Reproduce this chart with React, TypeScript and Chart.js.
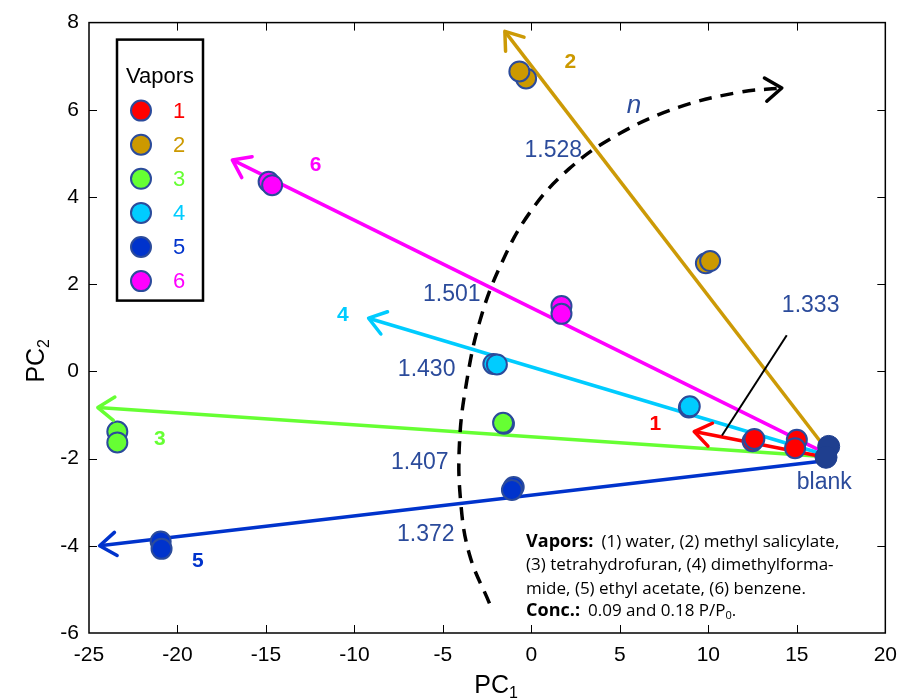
import React, { useEffect, useRef } from "react";
import { Chart, registerables } from "chart.js";
Chart.register(...registerables);

// ---- axes ----
const xMin = -25, xMax = 20, xStep = 5;
const yMin = -6, yMax = 8, yStep = 2;

// ---- vapors ----
const vaporNames = ["1", "2", "3", "4", "5", "6"];
const vaporColors = ["#ff0000", "#cc9900", "#66ff33", "#00ccff", "#0033cc", "#ff00ff"];
const lineColors = ["#ff0000", "#cc9a06", "#66ff33", "#00ccff", "#0033cc", "#ff00ff"];

const v1X = [12.5, 12.6, 15.0, 14.9];
const v1Y = [-1.6, -1.55, -1.57, -1.76];
const v2X = [-0.3, -0.68, 9.86, 10.1];
const v2Y = [6.72, 6.88, 2.48, 2.53];
const v3X = [-23.4, -23.4, -1.55, -1.6];
const v3Y = [-1.38, -1.63, -1.2, -1.18];
const v4X = [-2.15, -1.95, 8.9, 8.95];
const v4Y = [0.17, 0.16, -0.83, -0.8];
const v5X = [-20.95, -20.9, -1.0, -1.1];
const v5Y = [-3.9, -4.07, -2.65, -2.72];
const v6X = [-14.85, -14.65, 1.7, 1.7];
const v6Y = [4.35, 4.27, 1.5, 1.32];
const blankX = [16.8, 16.65];
const blankY = [-1.72, -1.97];

// arrows (start at blank, end at arrow tip)
const arrowStartX = [16.4, 16.6, 16.5, 16.5, 16.6, 16.5];
const arrowStartY = [-1.95, -1.75, -1.95, -1.9, -2.05, -1.85];
const arrowEndX = [9.2, -1.5, -24.5, -9.2, -24.4, -16.9];
const arrowEndY = [-1.38, 7.8, -0.83, 1.22, -4.0, 4.85];

// vapor number labels
const vaporLabelX = [7.0, 2.2, -21.0, -10.65, -18.85, -12.2];
const vaporLabelY = [-1.22, 7.1, -1.55, 1.28, -4.36, 4.72];

// refractive index labels
const nLabels = ["1.333", "1.528", "1.501", "1.430", "1.407", "1.372"];
const nLabelX = [15.78, 1.24, -4.5, -5.92, -6.31, -5.97];
const nLabelY = [1.5, 5.06, 1.76, 0.03, -2.09, -3.75];

// leader line for 1.333
const leaderX = [14.43, 10.77];
const leaderY = [0.83, -1.47];

// dashed n curve
const curveX = [-2.37, -3.5, -4.0, -4.06, -3.66, -2.93, -1.8, -0.11, 2.14, 4.96, 8.34, 11.72, 14.15];
const curveY = [-5.32, -4.2, -2.97, -1.61, -0.24, 1.13, 2.38, 3.63, 4.65, 5.45, 6.06, 6.4, 6.5];
const nText = "n";
const nTextX = 5.8;
const nTextY = 6.1;
const blankText = "blank";
const blankTextX = 16.55;
const blankTextY = -2.56;

// notes
const noteX = -0.3;
const noteY = [-3.91, -4.45, -5.0, -5.5];

const NAVY = "#2b4b9b";

function toPts(xs: number[], ys: number[]) {
  return xs.map((x, i) => ({ x, y: ys[i] }));
}

function drawArrowHead(ctx: CanvasRenderingContext2D, x0: number, y0: number, x1: number, y1: number, color: string, lw: number, len: number) {
  const a = Math.atan2(y1 - y0, x1 - x0);
  const sp = 0.62;
  ctx.save();
  ctx.strokeStyle = color;
  ctx.lineWidth = lw;
  ctx.lineCap = "round";
  ctx.lineJoin = "round";
  ctx.setLineDash([]);
  ctx.beginPath();
  ctx.moveTo(x1 - len * Math.cos(a - sp), y1 - len * Math.sin(a - sp));
  ctx.lineTo(x1, y1);
  ctx.lineTo(x1 - len * Math.cos(a + sp), y1 - len * Math.sin(a + sp));
  ctx.stroke();
  ctx.restore();
}

function measure(ctx: CanvasRenderingContext2D, main: string, sub: string, size: number, subSize: number, family: string) {
  ctx.font = `${size}px ${family}`;
  const w1 = ctx.measureText(main).width;
  ctx.font = `${subSize}px ${family}`;
  const w2 = ctx.measureText(sub).width;
  return { w1, w2 };
}

const overlay = {
  id: "overlay",
  afterDatasetsDraw(chart: any) {
    const ctx = chart.ctx as CanvasRenderingContext2D;
    const xs = chart.scales.x, ys = chart.scales.y;
    const px = (v: number) => xs.getPixelForValue(v);
    const py = (v: number) => ys.getPixelForValue(v);
    for (let i = 0; i < 6; i++) {
      drawArrowHead(ctx, px(arrowStartX[i]), py(arrowStartY[i]), px(arrowEndX[i]), py(arrowEndY[i]), lineColors[i], 3.5, 20);
    }
    const n = curveX.length;
    drawArrowHead(ctx, px(curveX[n - 2]), py(curveY[n - 2]), px(curveX[n - 1]), py(curveY[n - 1]), "#000", 3.5, 20);
  },
  afterDraw(chart: any) {
    const ctx = chart.ctx as CanvasRenderingContext2D;
    const xs = chart.scales.x, ys = chart.scales.y;
    const px = (v: number) => xs.getPixelForValue(v);
    const py = (v: number) => ys.getPixelForValue(v);
    const a = chart.chartArea;
    const fam = "'Liberation Sans', Arial, sans-serif";
    ctx.save();
    // box
    ctx.strokeStyle = "#000";
    ctx.lineWidth = 1.5;
    ctx.strokeRect(a.left, a.top, a.right - a.left, a.bottom - a.top);
    // inward ticks
    ctx.lineWidth = 1;
    const tl = 8;
    ctx.beginPath();
    for (let v = xMin + xStep; v < xMax; v += xStep) {
      const x = Math.round(px(v)) + 0.5;
      ctx.moveTo(x, a.bottom); ctx.lineTo(x, a.bottom - tl);
      ctx.moveTo(x, a.top); ctx.lineTo(x, a.top + tl);
    }
    for (let v = yMin + yStep; v < yMax; v += yStep) {
      const y = Math.round(py(v)) + 0.5;
      ctx.moveTo(a.left, y); ctx.lineTo(a.left + tl, y);
      ctx.moveTo(a.right, y); ctx.lineTo(a.right - tl, y);
    }
    ctx.stroke();

    // text labels
    ctx.textAlign = "center";
    ctx.textBaseline = "middle";
    ctx.fillStyle = NAVY;
    ctx.font = `23px ${fam}`;
    for (let i = 0; i < nLabels.length; i++) {
      ctx.fillText(nLabels[i], px(nLabelX[i]), py(nLabelY[i]));
    }
    ctx.fillText(blankText, px(blankTextX), py(blankTextY));
    ctx.font = `italic 26px ${fam}`;
    ctx.fillText(nText, px(nTextX), py(nTextY));
    ctx.font = `bold 21px ${fam}`;
    for (let i = 0; i < 6; i++) {
      ctx.fillStyle = vaporColors[i];
      ctx.fillText(vaporNames[i], px(vaporLabelX[i]), py(vaporLabelY[i]));
    }

    // legend
    const lx = a.left + 28, ly = a.top + 17, lw = 86, lh = 261;
    ctx.fillStyle = "#fff";
    ctx.fillRect(lx, ly, lw, lh);
    ctx.strokeStyle = "#000";
    ctx.lineWidth = 2.5;
    ctx.strokeRect(lx, ly, lw, lh);
    ctx.fillStyle = "#000";
    ctx.font = `22px ${fam}`;
    ctx.fillText("Vapors", lx + lw / 2, ly + 37);
    for (let i = 0; i < 6; i++) {
      const cy = ly + 71 + i * 34.1;
      ctx.beginPath();
      ctx.arc(lx + 24, cy, 10, 0, Math.PI * 2);
      ctx.fillStyle = vaporColors[i];
      ctx.fill();
      ctx.lineWidth = 2;
      ctx.strokeStyle = NAVY;
      ctx.stroke();
      ctx.fillStyle = vaporColors[i];
      ctx.font = `22px ${fam}`;
      ctx.fillText(vaporNames[i], lx + 62, cy + 1);
    }

    // axis titles
    ctx.fillStyle = "#000";
    ctx.textAlign = "left";
    ctx.textBaseline = "alphabetic";
    {
      const { w1, w2 } = measure(ctx, "PC", "1", 25, 16, fam);
      const cx = (a.left + a.right) / 2 + 9;
      const x0 = cx - (w1 + w2) / 2;
      const by = 693;
      ctx.font = `25px ${fam}`;
      ctx.fillText("PC", x0, by);
      ctx.font = `16px ${fam}`;
      ctx.fillText("1", x0 + w1, by + 5);
    }
    {
      const { w1, w2 } = measure(ctx, "PC", "2", 25, 16, fam);
      ctx.save();
      ctx.translate(44, (a.top + a.bottom) / 2 + 33);
      ctx.rotate(-Math.PI / 2);
      const x0 = -(w1 + w2) / 2;
      ctx.font = `25px ${fam}`;
      ctx.fillText("PC", x0, 0);
      ctx.font = `16px ${fam}`;
      ctx.fillText("2", x0 + w1, 5);
      ctx.restore();
    }

    // notes
    const nf = "'Open Sans', 'DejaVu Sans', sans-serif";
    ctx.fillStyle = "#000";
    ctx.textBaseline = "middle";
    const nx = px(noteX);
    ctx.font = `bold 18px ${nf}`;
    ctx.fillText("Vapors:", nx, py(noteY[0]));
    let w = ctx.measureText("Vapors:").width;
    ctx.font = `17px ${nf}`;
    ctx.fillText("(1) water, (2) methyl salicylate,", nx + w + 8, py(noteY[0]));
    ctx.fillText("(3) tetrahydrofuran, (4) dimethylforma-", nx, py(noteY[1]));
    ctx.fillText("mide, (5) ethyl acetate, (6) benzene.", nx, py(noteY[2]));
    ctx.font = `bold 18px ${nf}`;
    ctx.fillText("Conc.:", nx, py(noteY[3]));
    w = ctx.measureText("Conc.:").width;
    ctx.font = `17px ${nf}`;
    const t1 = "0.09 and 0.18 P/P";
    ctx.fillText(t1, nx + w + 8, py(noteY[3]));
    const w3 = ctx.measureText(t1).width;
    ctx.font = `11px ${nf}`;
    ctx.fillText("0", nx + w + 8 + w3, py(noteY[3]) + 5);
    const w4 = ctx.measureText("0").width;
    ctx.font = `17px ${nf}`;
    ctx.fillText(".", nx + w + 8 + w3 + w4, py(noteY[3]));
    ctx.restore();
  },
};

export default function App() {
  const ref = useRef<HTMLCanvasElement>(null);
  useEffect(() => {
    if (!ref.current) return;
    const vx = [v1X, v2X, v3X, v4X, v5X, v6X];
    const vy = [v1Y, v2Y, v3Y, v4Y, v5Y, v6Y];
    const datasets: any[] = [];
    for (let i = 0; i < 6; i++) {
      datasets.push({
        label: "arrow" + vaporNames[i],
        data: [{ x: arrowStartX[i], y: arrowStartY[i] }, { x: arrowEndX[i], y: arrowEndY[i] }],
        showLine: true,
        borderColor: lineColors[i],
        borderWidth: 3.5,
        pointRadius: 0,
        order: 10,
      });
    }
    datasets.push({
      label: "leader",
      data: toPts(leaderX, leaderY),
      showLine: true,
      borderColor: "#000",
      borderWidth: 2,
      pointRadius: 0,
      order: 9,
    });
    datasets.push({
      label: "n",
      data: toPts(curveX, curveY),
      showLine: true,
      borderColor: "#000",
      borderWidth: 3.5,
      borderDash: [13, 9],
      tension: 0.4,
      pointRadius: 0,
      order: 9,
    });
    for (let i = 0; i < 6; i++) {
      datasets.push({
        label: "Vapor " + vaporNames[i],
        data: toPts(vx[i], vy[i]),
        showLine: false,
        backgroundColor: vaporColors[i],
        borderColor: NAVY,
        borderWidth: 2,
        pointRadius: 10,
        order: 2,
      });
    }
    datasets.push({
      label: "blank",
      data: toPts(blankX, blankY),
      showLine: false,
      backgroundColor: "#1f3f8f",
      borderColor: "#1f3f8f",
      borderWidth: 1,
      pointRadius: 11,
      order: 1,
    });

    const chart = new Chart(ref.current, {
      type: "scatter",
      data: { datasets },
      options: {
        animation: false,
        responsive: false,
        maintainAspectRatio: false,
        layout: { padding: { top: 18, right: 20, left: 0, bottom: 0 } },
        plugins: { legend: { display: false }, tooltip: { enabled: false } },
        scales: {
          x: {
            type: "linear",
            min: xMin,
            max: xMax,
            ticks: {
              stepSize: xStep,
              color: "#000",
              font: { family: "'Liberation Sans', Arial, sans-serif", size: 21 },
              padding: 10,
            },
            grid: { display: false, drawTicks: false },
            border: { display: false },
            afterFit: (s: any) => { s.height = 65; },
          },
          y: {
            type: "linear",
            min: yMin,
            max: yMax,
            ticks: {
              stepSize: yStep,
              color: "#000",
              font: { family: "'Liberation Sans', Arial, sans-serif", size: 21 },
              padding: 10,
            },
            grid: { display: false, drawTicks: false },
            border: { display: false },
            afterFit: (s: any) => { s.width = 89; },
          },
        },
      },
      plugins: [overlay],
    });
    return () => chart.destroy();
  }, []);
  return (
    <div style={{ position: "fixed", left: 0, top: 0, width: 907, height: 698, background: "#fff" }}>
      <canvas ref={ref} width={907} height={698} />
    </div>
  );
}
